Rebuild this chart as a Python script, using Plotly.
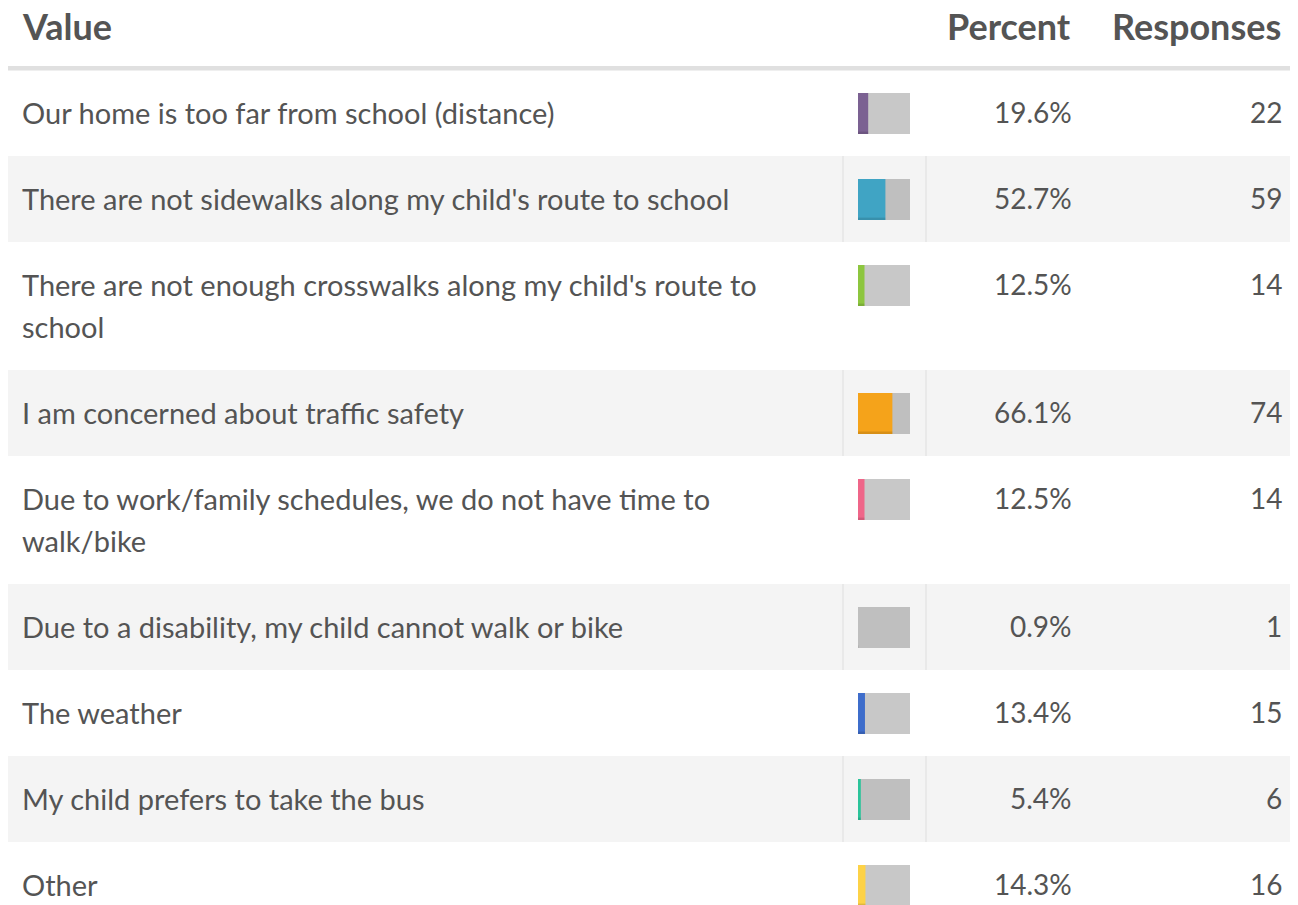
import plotly.graph_objects as go

labels = [
    ["Our home is too far from school (distance)"],
    ["There are not sidewalks along my child's route to school"],
    ["There are not enough crosswalks along my child's route to", "school"],
    ["I am concerned about traffic safety"],
    ["Due to work/family schedules, we do not have time to", "walk/bike"],
    ["Due to a disability, my child cannot walk or bike"],
    ["The weather"],
    ["My child prefers to take the bus"],
    ["Other"],
]
percents = [19.6, 52.7, 12.5, 66.1, 12.5, 0.9, 13.4, 5.4, 14.3]
responses = [22, 59, 14, 74, 14, 1, 15, 6, 16]
colors = ["#7b6192", "#40a4c4", "#8dc63f", "#f5a31a", "#ef6689",
          "#bfbfbf", "#3e6dcb", "#2bc49a", "#fdd247"]
headers = ["Value", "Percent", "Responses"]

W, H = 1298, 905
PAGE_OFF = 8  # browser body margin
TXT = "#545454"
FONT = "Lato"

# row geometry (layout)
HEADER_BOTTOM = 70
ROW_H = 86
LINE_STEP = 42
TEXT_OFF = 42
tops = []
t = HEADER_BOTTOM
for lab in labels:
    tops.append(t)
    t += ROW_H + LINE_STEP * (len(lab) - 1)
heights = [ROW_H + LINE_STEP * (len(lab) - 1) for lab in labels]

BAR_X0, BAR_X1 = 858, 910
BAR_OFF, BAR_H = 23, 41
bar_centers = [tp + BAR_OFF + BAR_H / 2 for tp in tops]

fig = go.Figure()

shapes = []
for i, (tp, h) in enumerate(zip(tops, heights)):
    if i % 2 == 1:
        shapes.append(dict(type="rect", xref="x", yref="y", x0=6, x1=W, y0=tp, y1=tp + h,
                           fillcolor="#f4f4f4", line_width=0, layer="below"))
        for xv in (843, 926):
            shapes.append(dict(type="line", xref="x", yref="y", x0=xv, x1=xv, y0=tp, y1=tp + h,
                               line=dict(color="#e6e6e6", width=1.5), layer="below"))
shapes.append(dict(type="rect", xref="x", yref="y", x0=6, x1=W, y0=66, y1=70.5,
                   fillcolor="#e0e0e0", line_width=0, layer="below"))

bg_colors = ["#c8c8c8" if i % 2 == 0 else "#bfbfbf" for i in range(len(labels))]

# background bars (100%)
fig.add_trace(go.Bar(orientation="h", x=[100] * len(labels), y=bar_centers, width=BAR_H,
                     marker=dict(color=bg_colors, line_width=0), xaxis="x2", yaxis="y",
                     hoverinfo="skip", showlegend=False))
# value bars
fig.add_trace(go.Bar(orientation="h", x=percents, y=bar_centers, width=BAR_H,
                     marker=dict(color=colors, line_width=0), xaxis="x2", yaxis="y",
                     showlegend=False))
# subtle bottom shade on value bars
fig.add_trace(go.Bar(orientation="h", x=percents, y=[c + BAR_H / 2 - 1.2 for c in bar_centers],
                     width=2.4, marker=dict(color="rgba(0,0,0,0.12)", line_width=0),
                     xaxis="x2", yaxis="y", hoverinfo="skip", showlegend=False))

ann = []
hdr_y = 26
for x, anchor, txt in ((20, "left", headers[0]), (1073, "right", headers[1]), (1283, "right", headers[2])):
    ann.append(dict(x=x, y=hdr_y, text="<b>" + txt + "</b>", xanchor=anchor, yanchor="middle",
                    xref="x", yref="y", showarrow=False,
                    font=dict(family=FONT, size=36, color=TXT)))

FS_LABEL = 29
FS_NUM = 28
for tp, lab, p, r in zip(tops, labels, percents, responses):
    for j, line in enumerate(lab):
        ann.append(dict(x=20, y=tp + TEXT_OFF + LINE_STEP * j, text=line, xanchor="left", yanchor="middle",
                        xref="x", yref="y", showarrow=False,
                        font=dict(family=FONT, size=FS_LABEL, color=TXT)))
    ann.append(dict(x=1074, y=tp + TEXT_OFF, text=f"{p:.1f}%", xanchor="right", yanchor="middle",
                    xref="x", yref="y", showarrow=False, font=dict(family=FONT, size=FS_NUM, color=TXT)))
    ann.append(dict(x=1284, y=tp + TEXT_OFF, text=str(r), xanchor="right", yanchor="middle",
                    xref="x", yref="y", showarrow=False, font=dict(family=FONT, size=FS_NUM, color=TXT)))

FW = W - PAGE_OFF
FH = H - PAGE_OFF
fig.update_layout(
    width=FW, height=FH, margin=dict(l=0, r=0, t=0, b=0),
    paper_bgcolor="white", plot_bgcolor="rgba(0,0,0,0)",
    barmode="overlay", shapes=shapes, annotations=ann,
    xaxis=dict(range=[PAGE_OFF, W], domain=[0, 1], visible=False, fixedrange=True),
    xaxis2=dict(range=[0, 100],
                domain=[(BAR_X0 - PAGE_OFF) / FW, (BAR_X1 - PAGE_OFF) / FW],
                visible=False, anchor="y", fixedrange=True),
    yaxis=dict(range=[H, PAGE_OFF], visible=False, fixedrange=True),
    showlegend=False,
)

fig.write_html("out.html")
